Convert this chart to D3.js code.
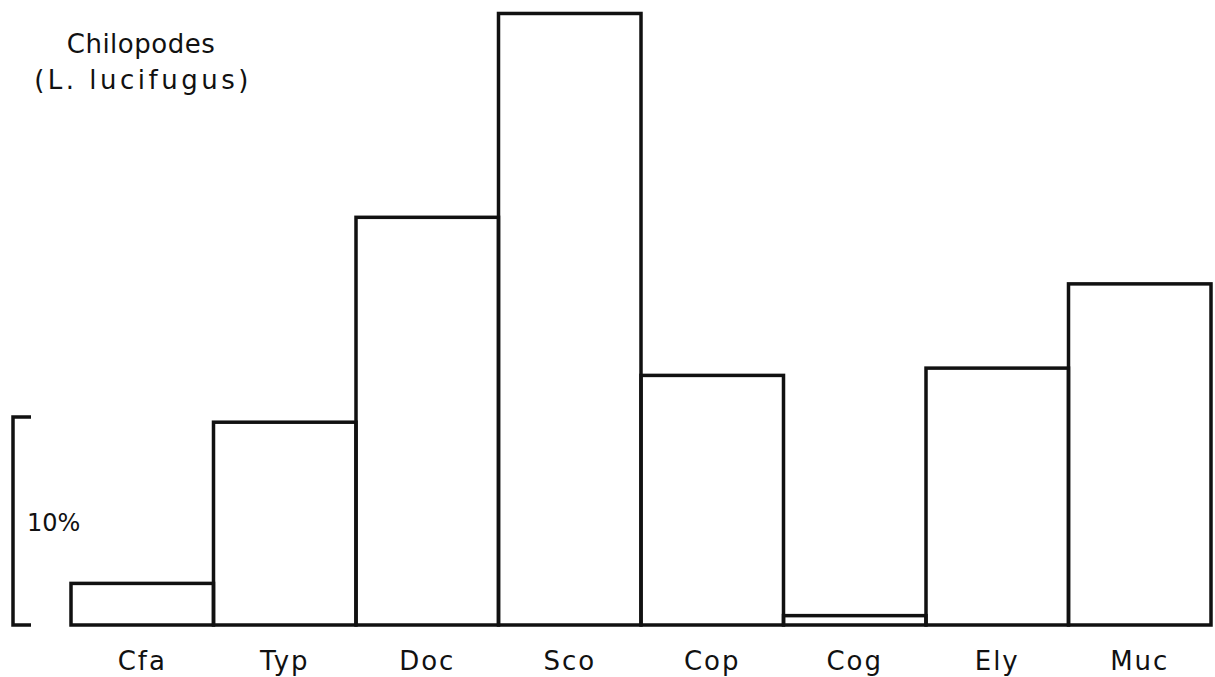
<!DOCTYPE html>
<html>
<head>
<meta charset="utf-8">
<script src="https://cdn.jsdelivr.net/npm/d3@7"></script>
<style>
  body { margin: 0; background: #fff; }
  svg { display: block; }
  text { font-family: "DejaVu Sans", sans-serif; fill: #111; }
</style>
</head>
<body>
<svg width="1215" height="677"></svg>
<script>
var svg = d3.select('svg');

// données (pourcentage)
const categories = ["Cfa", "Typ", "Doc", "Sco", "Cop", "Cog", "Ely", "Muc"];
const values = [2.0, 9.75, 19.6, 29.4, 12.0, 0.45, 12.35, 16.4];
const scaleLabel = "10%";
const titleLines = ["Chilopodes", "(L. lucifugus)"];

const data = categories.map((c, i) => ({ cat: c, value: values[i] }));

// échelles
const xScale = d3.scaleBand()
  .domain(categories)
  .range([71, 1211])
  .padding(0);

const yScale = d3.scaleLinear()
  .domain([0, 10])
  .range([625, 417]);

// barres
svg.append('g').selectAll('rect').data(data)
  .enter().append('rect')
  .attr('x', d => xScale(d.cat))
  .attr('y', d => yScale(d.value))
  .attr('width', xScale.bandwidth())
  .attr('height', d => yScale(0) - yScale(d.value))
  .style('fill', 'none')
  .style('stroke', '#111')
  .style('stroke-width', 3.5);

// étiquettes des catégories
svg.append('g').selectAll('text').data(data)
  .enter().append('text')
  .attr('x', d => xScale(d.cat) + xScale.bandwidth() / 2)
  .attr('y', 670)
  .attr('text-anchor', 'middle')
  .style('font-size', '26px')
  .style('letter-spacing', '2px')
  .text(d => d.cat);

// barre d'échelle 10%
const bracket = d3.path();
bracket.moveTo(31, yScale(10));
bracket.lineTo(13, yScale(10));
bracket.lineTo(13, yScale(0));
bracket.lineTo(31, yScale(0));
svg.append('path')
  .attr('d', bracket.toString())
  .style('fill', 'none')
  .style('stroke', '#111')
  .style('stroke-width', 3.5);

svg.append('text')
  .attr('x', 27)
  .attr('y', yScale(4.5))
  .style('font-size', '24px')
  .text(scaleLabel);

// titre
svg.append('text')
  .attr('x', 141)
  .attr('y', 53)
  .attr('text-anchor', 'middle')
  .style('font-size', '26px')
  .style('letter-spacing', '0.5px')
  .text(titleLines[0]);

svg.append('text')
  .attr('x', 143)
  .attr('y', 89)
  .attr('text-anchor', 'middle')
  .style('font-size', '26px')
  .style('letter-spacing', '3.5px')
  .text(titleLines[1]);
</script>
</body>
</html>
